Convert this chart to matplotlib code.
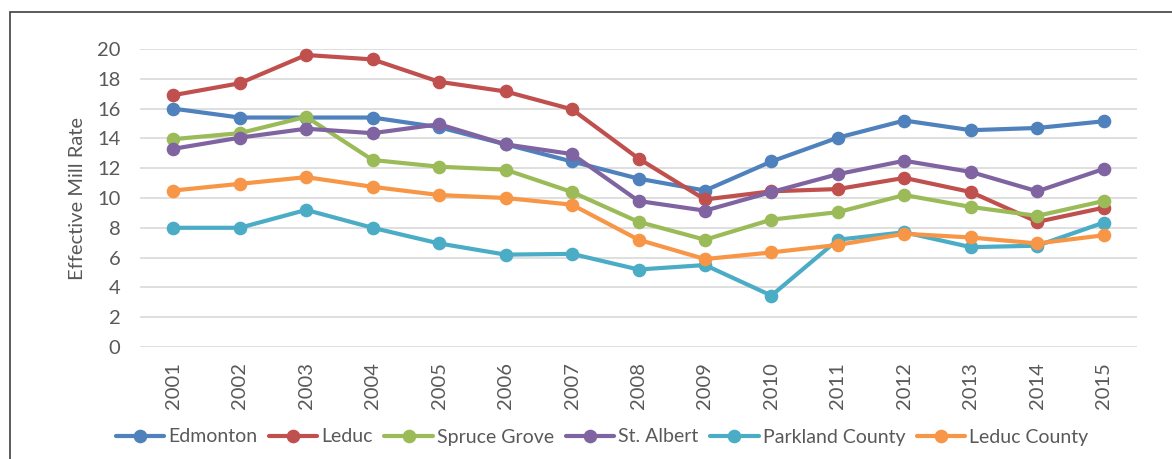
import matplotlib.pyplot as plt
from matplotlib.patches import Rectangle

plt.rcParams['font.family'] = ['Lato', 'DejaVu Sans']

years = [str(y) for y in range(2001, 2016)]

edmonton = [16.0, 15.4, 15.4, 15.4, 14.75, 13.6, 12.45, 11.3, 10.5, 12.45, 14.05, 15.2, 14.55, 14.7, 15.15]
leduc = [16.9, 17.7, 19.6, 19.3, 17.8, 17.15, 15.95, 12.65, 9.9, 10.45, 10.6, 11.35, 10.4, 8.4, 9.35]
spruce_grove = [13.95, 14.35, 15.45, 12.55, 12.1, 11.9, 10.4, 8.4, 7.2, 8.55, 9.05, 10.2, 9.4, 8.8, 9.8]
st_albert = [13.3, 14.05, 14.65, 14.35, 14.95, 13.6, 12.95, 9.8, 9.15, 10.4, 11.6, 12.5, 11.75, 10.45, 11.95]
parkland_county = [8.0, 8.0, 9.2, 8.0, 6.95, 6.2, 6.25, 5.2, 5.5, 3.45, 7.2, 7.7, 6.7, 6.8, 8.35]
leduc_county = [10.5, 10.95, 11.4, 10.75, 10.2, 10.0, 9.55, 7.2, 5.9, 6.35, 6.85, 7.6, 7.35, 6.95, 7.5]

series = [
    ("Edmonton", edmonton, "#4F81BD"),
    ("Leduc", leduc, "#C0504D"),
    ("Spruce Grove", spruce_grove, "#9BBB59"),
    ("St. Albert", st_albert, "#8064A2"),
    ("Parkland County", parkland_county, "#4BACC6"),
    ("Leduc County", leduc_county, "#F79646"),
]

fig = plt.figure(figsize=(11.72, 4.59), dpi=100)
ax = fig.add_axes([140 / 1172, 112 / 459, 997 / 1172, 298 / 459])

x = list(range(len(years)))
for name, vals, col in series:
    ax.plot(x, vals, color=col, lw=3, marker='o', ms=8.8, label=name,
            solid_capstyle='round', clip_on=False)

ax.set_xlim(-0.5, len(years) - 0.5)
ax.set_ylim(0, 20)
ax.set_yticks(range(0, 21, 2))
ax.set_xticks(x)
ax.set_xticklabels(years, rotation=90)
ax.grid(axis='y', color='#D9D9D9', lw=1.2)
ax.set_axisbelow(True)
for s in ax.spines.values():
    s.set_visible(False)
ax.tick_params(axis='both', length=0, labelsize=14.5, colors='#595959')
ax.tick_params(axis='y', pad=14)
ax.tick_params(axis='x', pad=11)
ax.set_ylabel("Effective Mill Rate", fontsize=14.5, color='#595959', labelpad=8)

fig.legend(loc='center', bbox_to_anchor=(602 / 1172, 22 / 459), ncol=6,
           frameon=False, fontsize=14, handlelength=2.5, handletextpad=0.2,
           columnspacing=0.6, labelcolor='#595959')

fig.patches.append(Rectangle((10 / 1172, -0.1), 1.2, (459 - 12) / 459 + 0.1,
                             transform=fig.transFigure, fill=False,
                             edgecolor='#404040', lw=1.2))

fig.savefig("out.png", dpi=100)
